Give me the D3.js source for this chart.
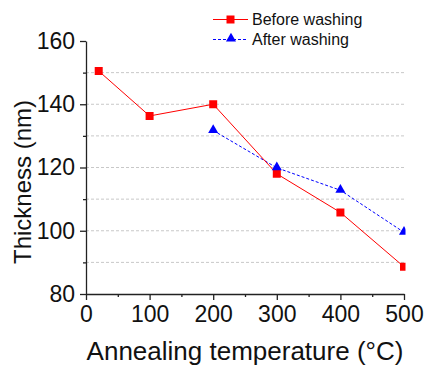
<!DOCTYPE html>
<html><head><meta charset="utf-8">
<script src="https://cdn.jsdelivr.net/npm/d3@7"></script>
<style>body{margin:0;background:#fff}svg{display:block}text{font-family:"Liberation Sans",Arial,sans-serif}</style>
</head><body><svg id="c" width="426" height="365"></svg>
<script>
const temps = [20, 100, 200, 300, 400, 500];
const beforeWashing = [150.5, 136.3, 140.0, 118.0, 105.8, 88.6];
const afterTemps = [200, 300, 400, 500];
const afterWashing = [131.7, 119.9, 112.8, 99.5];
const xTicks = [0, 100, 200, 300, 400, 500];
const yTicks = [80, 100, 120, 140, 160];
const gridVals = [90, 100, 110, 120, 130, 140, 150];
const seriesNames = ["Before washing", "After washing"];

const svg = d3.select("#c");
const L = 86, R = 404, T = 41, B = 294;
const x = d3.scaleLinear().domain([0, 500]).range([L, R]);
const y = d3.scaleLinear().domain([80, 160]).range([B, T]);

// grid
svg.append("g").selectAll("line").data(gridVals).join("line")
  .attr("x1", L).attr("x2", R).attr("y1", d => y(d)).attr("y2", d => y(d))
  .attr("stroke", "#c8c8c8").attr("stroke-width", 1).attr("stroke-dasharray", "3,2");

svg.append("defs").append("clipPath").attr("id", "clip")
  .append("rect").attr("x", L).attr("y", 0).attr("width", R - L + 1.5).attr("height", B);

const plot = svg.append("g").attr("clip-path", "url(#clip)");
const line = d3.line().x(d => x(d[0])).y(d => y(d[1]));
const bData = temps.map((t, i) => [t, beforeWashing[i]]);
const aData = afterTemps.map((t, i) => [t, afterWashing[i]]);

plot.append("path").attr("d", line(aData)).attr("fill", "none")
  .attr("stroke", "#0000ff").attr("stroke-width", 1).attr("stroke-dasharray", "3,2");
plot.append("path").attr("d", line(bData)).attr("fill", "none")
  .attr("stroke", "#ff0000").attr("stroke-width", 1);

const sq = d3.symbol().type(d3.symbolSquare).size(64);
const tri = d3.symbol().type(d3.symbolTriangle).size(44);
plot.selectAll(".b").data(bData).join("path").attr("class", "b")
  .attr("d", sq).attr("transform", d => `translate(${x(d[0])},${y(d[1])})`).attr("fill", "#ff0000");
plot.selectAll(".a").data(aData).join("path").attr("class", "a")
  .attr("d", tri).attr("transform", d => `translate(${x(d[0])},${y(d[1]) - 0.5})`).attr("fill", "#0000ff");

// axes
const axCol = "#222";
const xAxis = svg.append("g").attr("transform", `translate(0,${B})`)
  .call(d3.axisBottom(x).tickValues(xTicks).tickSize(6).tickPadding(6).tickSizeOuter(0));
svg.append("g").attr("transform", `translate(0,${B})`)
  .call(d3.axisBottom(x).tickValues([50,150,250,350,450]).tickSize(3).tickFormat("").tickSizeOuter(0))
  .select(".domain").remove();
const yAxis = svg.append("g").attr("transform", `translate(${L},0)`)
  .call(d3.axisLeft(y).tickValues(yTicks).tickSize(6).tickPadding(5).tickSizeOuter(0));
svg.append("g").attr("transform", `translate(${L},0)`)
  .call(d3.axisLeft(y).tickValues(gridVals.filter(v => v % 20 !== 0)).tickSize(3).tickFormat("").tickSizeOuter(0))
  .select(".domain").remove();
svg.selectAll(".domain, .tick line").attr("stroke", axCol).attr("stroke-width", 1.3);
xAxis.selectAll("text").attr("font-size", 23).attr("fill", "#111").attr("font-family", "Liberation Sans, Arial");
yAxis.selectAll("text").attr("font-size", 23).attr("fill", "#111").attr("font-family", "Liberation Sans, Arial");

// titles
svg.append("text").attr("x", 245).attr("y", 360).attr("text-anchor", "middle")
  .attr("font-size", 26).attr("fill", "#111").text("Annealing temperature (°C)");
svg.append("text").attr("transform", "translate(31,182) rotate(-90)").attr("text-anchor", "middle")
  .attr("font-size", 24).attr("fill", "#111").text("Thickness (nm)");

// legend
const lg = svg.append("g");
lg.append("line").attr("x1", 213).attr("x2", 248).attr("y1", 19.5).attr("y2", 19.5).attr("stroke", "#ff0000");
lg.append("path").attr("d", sq).attr("transform", "translate(230.5,19.5)").attr("fill", "#ff0000");
lg.append("line").attr("x1", 213).attr("x2", 248).attr("y1", 39.5).attr("y2", 39.5).attr("stroke", "#0000ff").attr("stroke-dasharray", "3,2");
lg.append("path").attr("d", tri).attr("transform", "translate(231,38.5)").attr("fill", "#0000ff");
lg.selectAll("text.l").data(seriesNames).join("text").attr("class", "l")
  .attr("x", 252).attr("y", (d, i) => 25 + i * 19.5).attr("font-size", 16).attr("fill", "#111").text(d => d);
</script></body></html>
